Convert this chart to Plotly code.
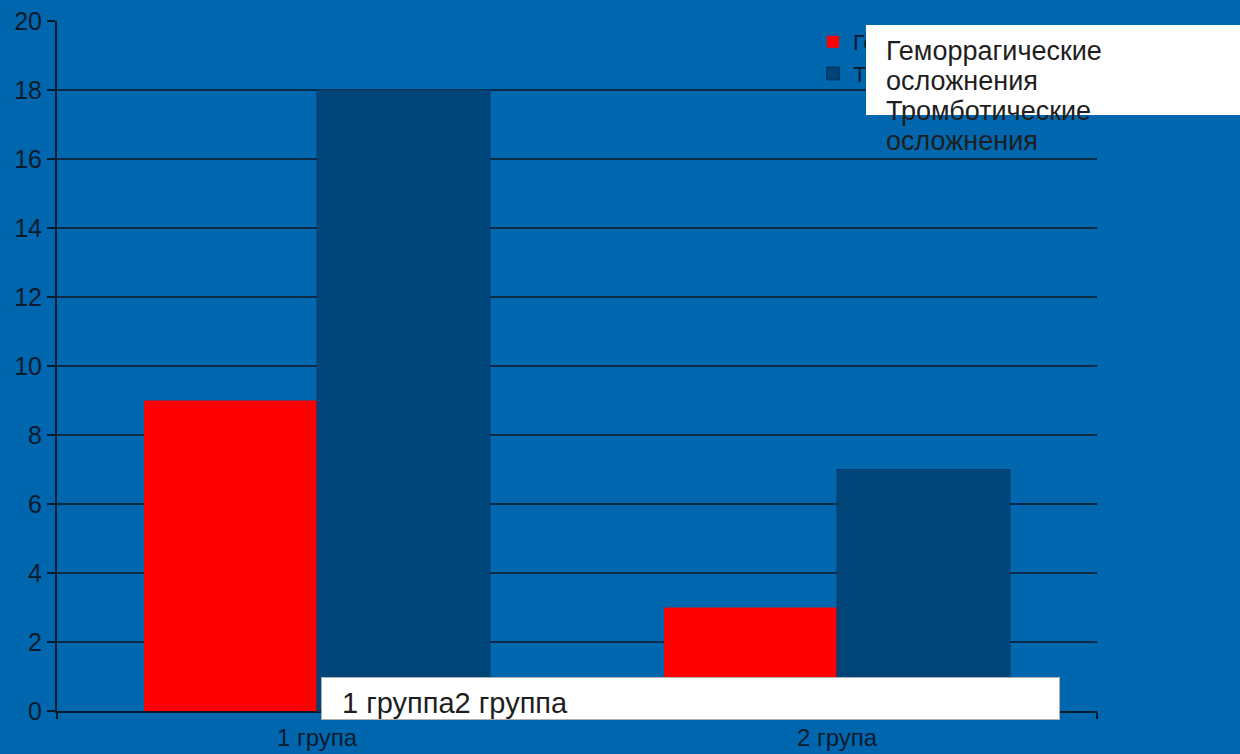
import plotly.graph_objects as go

categories = ["1 група", "2 група"]
series_names = ["Геморрагические осложнения", "Тромботические осложнения"]
hemorrhagic = [9, 3]
thrombotic = [18, 7]
y_ticks = [0, 2, 4, 6, 8, 10, 12, 14, 16, 18, 20]
legend_lines = ["Геморрагические", "осложнения", "Тромботические", "осложнения"]
bottom_text = "1 группа2 группа"

BG = "#0066AE"
DARK = "#0B1B2C"
GRID = "#0C2A48"

fig = go.Figure()
fig.add_trace(go.Bar(x=categories, y=hemorrhagic, name=series_names[0],
                     marker=dict(color="#FF0000", line=dict(width=0))))
fig.add_trace(go.Bar(x=categories, y=thrombotic, name=series_names[1],
                     marker=dict(color="#00457A", line=dict(color="#003A68", width=1))))

L, R, T, B = 57, 143, 21, 43
W, H = 1240, 754
pw, ph = W - L - R, H - T - B

def px(xp):
    return (xp - L) / pw

def py(yp):
    return (H - B - yp) / ph

fig.update_layout(
    width=W, height=H,
    margin=dict(l=L, r=R, t=T, b=B, pad=0, autoexpand=False),
    paper_bgcolor=BG, plot_bgcolor=BG,
    barmode="group", bargap=0.335, bargroupgap=0,
    font=dict(family="Liberation Sans, Arial, sans-serif", color=DARK, size=18),
    showlegend=True,
    legend=dict(x=px(813), y=py(21), xanchor="left", yanchor="top",
                bgcolor="rgba(0,0,0,0)", font=dict(size=22, color=DARK),
                itemsizing="constant", tracegroupgap=0),
    xaxis=dict(showgrid=False, showline=True, linecolor=DARK, linewidth=2,
               ticks="outside", tickson="boundaries", ticklen=6, tickcolor=DARK,
               tickwidth=2, tickfont=dict(size=24, color=DARK), automargin=False,
               ticklabelstandoff=4),
    yaxis=dict(range=[0, 20], tickvals=y_ticks, showgrid=True, gridcolor=GRID,
               gridwidth=2, showline=True, linecolor=DARK, linewidth=2,
               ticks="outside", ticklen=8, tickcolor=DARK, tickwidth=2,
               tickfont=dict(size=25, color=DARK), zeroline=False, automargin=False),
)

annotations = []
# white box top-right
annotations.append(dict(xref="paper", yref="paper", x=px(866), y=py(25),
                        xanchor="left", yanchor="top", text=" ", showarrow=False,
                        width=W - 866, height=90, bgcolor="white", borderpad=0,
                        borderwidth=0))
# white box bottom
annotations.append(dict(xref="paper", yref="paper", x=px(321), y=py(677),
                        xanchor="left", yanchor="top", text=" ", showarrow=False,
                        width=737, height=41, bgcolor="white", borderpad=0,
                        bordercolor="#B0B0B0", borderwidth=1))
for i, line in enumerate(legend_lines):
    annotations.append(dict(xref="paper", yref="paper", x=px(884), y=py(51 + 30 * i),
                            xanchor="left", yanchor="middle", text=line,
                            showarrow=False, font=dict(size=27, color="#1E1E1E")))
annotations.append(dict(xref="paper", yref="paper", x=px(340), y=py(703),
                        xanchor="left", yanchor="middle", text=bottom_text,
                        showarrow=False, font=dict(size=29, color="#1E1E1E")))
fig.update_layout(annotations=annotations)

fig.write_html(
    "out.html",
    config={"displayModeBar": False},
    post_script="document.body.style.margin='0';document.body.style.overflow='hidden';"
                "document.body.style.background='" + BG + "';",
)
